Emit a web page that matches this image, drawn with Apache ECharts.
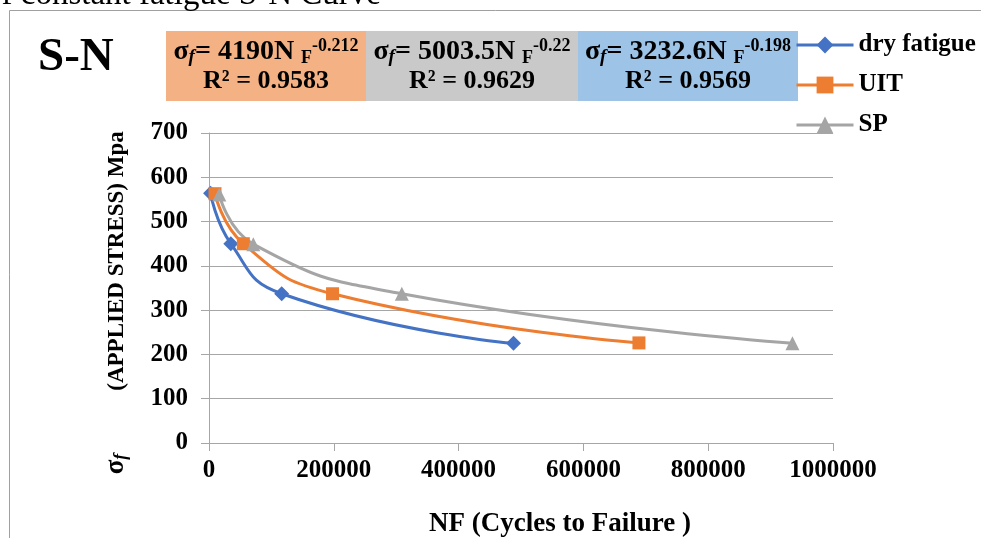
<!DOCTYPE html>
<html>
<head>
<meta charset="utf-8">
<script src="https://cdn.jsdelivr.net/npm/echarts@6/dist/echarts.min.js"></script>
<style>
html,body{margin:0;padding:0;background:#fff;}
#chart{width:981px;height:538px;}
</style>
</head>
<body>
<div id="chart"></div>
<script>
// ---- data ----
const seriesNames = ['dry fatigue', 'UIT', 'SP'];
const dryN = [2500, 35000, 116500, 488000];
const drySigma = [564, 450, 337, 225];
const uitN = [9600, 55000, 198000, 689000];
const uitSigma = [563, 450, 337, 226];
const spN = [16500, 71000, 309000, 935000];
const spSigma = [561, 449, 337, 225];
const eqCoef = ['4190', '5003.5', '3232.6'];
const eqExp = ['-0.212', '-0.22', '-0.198'];
const eqR2 = ['0.9583', '0.9629', '0.9569'];
const xMin = 0, xMax = 1000000, xStep = 200000;
const yMin = 0, yMax = 700, yStep = 100;

const FONT = "'Liberation Serif','Times New Roman',serif";
const colors = ['#4472C4', '#ED7D31', '#A5A5A5'];
const symbols = ['diamond', 'rect', 'triangle'];
const symSizes = [15, 13, 14];
const boxFill = ['#F4B183', '#C9C9C9', '#9DC3E6'];
const boxX = [166, 366, 578];
const boxW = [200, 212, 220];

function pairs(xs, ys) { return xs.map((x, i) => [x, ys[i]]); }
const seriesData = [pairs(dryN, drySigma), pairs(uitN, uitSigma), pairs(spN, spSigma)];

const eqRich = {
  s: { fontFamily: FONT, fontWeight: 'bold', fontSize: 28, lineHeight: 30, fill: '#000' },
  fi: { fontFamily: FONT, fontWeight: 'bold', fontStyle: 'italic', fontSize: 19, lineHeight: 17, verticalAlign: 'bottom', fill: '#000' },
  m: { fontFamily: FONT, fontWeight: 'bold', fontSize: 28, lineHeight: 30, fill: '#000' },
  sub: { fontFamily: FONT, fontWeight: 'bold', fontSize: 18, lineHeight: 17, verticalAlign: 'bottom', fill: '#000' },
  sup: { fontFamily: FONT, fontWeight: 'bold', fontSize: 18, lineHeight: 18, verticalAlign: 'top', fill: '#000' },
  r: { fontFamily: FONT, fontWeight: 'bold', fontSize: 26, lineHeight: 28, fill: '#000' }
};

const graphics = [
  { type: 'rect', shape: { x: 9.5, y: 10.5, width: 1200, height: 800 }, style: { fill: 'none', stroke: '#A0A0A0', lineWidth: 1 }, z: 0 },
  { type: 'text', x: -15, y: -5, style: { text: 'of constant fatigue S-N Curve', font: "33px " + FONT, fill: '#000', align: 'left', verticalAlign: 'middle' }, z: 5 },
  { type: 'text', x: 38, y: 58, style: { text: 'S-N', font: "bold 47px " + FONT, fill: '#000', align: 'left', verticalAlign: 'middle' }, z: 5 },
  { type: 'text', x: 560, y: 524, style: { text: 'NF (Cycles to Failure )', font: "bold 27px " + FONT, fill: '#000', align: 'center', verticalAlign: 'middle' }, z: 5 },
  { type: 'text', x: 117, y: 261, rotation: Math.PI / 2, style: { text: '(APPLIED STRESS) Mpa', font: "bold 23px " + FONT, fill: '#000', align: 'center', verticalAlign: 'middle' }, z: 5 },
  { type: 'text', x: 116, y: 464, rotation: Math.PI / 2, style: {
      text: '{s|σ}{f|f}',
      rich: {
        s: { fontFamily: FONT, fontWeight: 'bold', fontSize: 27, lineHeight: 28, fill: '#000' },
        f: { fontFamily: FONT, fontWeight: 'bold', fontStyle: 'italic', fontSize: 18, lineHeight: 17, verticalAlign: 'bottom', fill: '#000' }
      },
      align: 'center', verticalAlign: 'middle' }, z: 5 }
];
for (let i = 0; i < 3; i++) {
  graphics.push({ type: 'rect', shape: { x: boxX[i], y: 31, width: boxW[i], height: 70 }, style: { fill: boxFill[i], stroke: 'none' }, z: 3 });
  graphics.push({ type: 'text', x: boxX[i] + boxW[i] / 2, y: 66, style: {
      text: '{s|σ}{fi|f}{m|= ' + eqCoef[i] + 'N }{sub|F}{sup|' + eqExp[i] + '}\n{r|R² = ' + eqR2[i] + '}',
      rich: eqRich, align: 'center', verticalAlign: 'middle' }, z: 4 });
}

const chart = echarts.init(document.getElementById('chart'), null, { renderer: 'canvas' });
chart.setOption({
  animation: false,
  backgroundColor: '#fff',
  color: colors,
  grid: { left: 209, top: 133, width: 624, height: 310, containLabel: false },
  legend: {
    orient: 'vertical', left: 795, top: 30, padding: 0,
    itemWidth: 57, itemHeight: 21, itemGap: 10,
    data: seriesNames.map(n => ({ name: n, lineStyle: { width: 3 } })),
    lineStyle: { width: 3 },
    textStyle: { fontFamily: FONT, fontWeight: 'bold', fontSize: 25, color: '#000', lineHeight: 30 }
  },
  xAxis: {
    type: 'value', min: xMin, max: xMax, interval: xStep,
    axisLine: { show: true, lineStyle: { color: '#A6A6A6', width: 1 } },
    axisTick: { show: true, length: 8, lineStyle: { color: '#A6A6A6' } },
    splitLine: { show: false },
    axisLabel: { fontFamily: FONT, fontWeight: 'bold', fontSize: 25, color: '#000', margin: 15,
      formatter: v => String(v) }
  },
  yAxis: {
    type: 'value', min: yMin, max: yMax, interval: yStep,
    axisLine: { show: true, lineStyle: { color: '#A6A6A6', width: 1 } },
    axisTick: { show: true, length: 8, lineStyle: { color: '#A6A6A6' } },
    splitLine: { show: true, lineStyle: { color: '#A6A6A6', width: 1 } },
    axisLabel: { fontFamily: FONT, fontWeight: 'bold', fontSize: 25, color: '#000', margin: 21 }
  },
  series: seriesNames.map((name, i) => ({
    name: name, type: 'line', data: seriesData[i],
    smooth: 0.5,
    symbol: symbols[i], symbolSize: symSizes[i],
    lineStyle: { width: 3, color: colors[i] },
    itemStyle: { color: colors[i] },
    clip: false
  })),
  graphic: graphics
});
</script>
</body>
</html>
